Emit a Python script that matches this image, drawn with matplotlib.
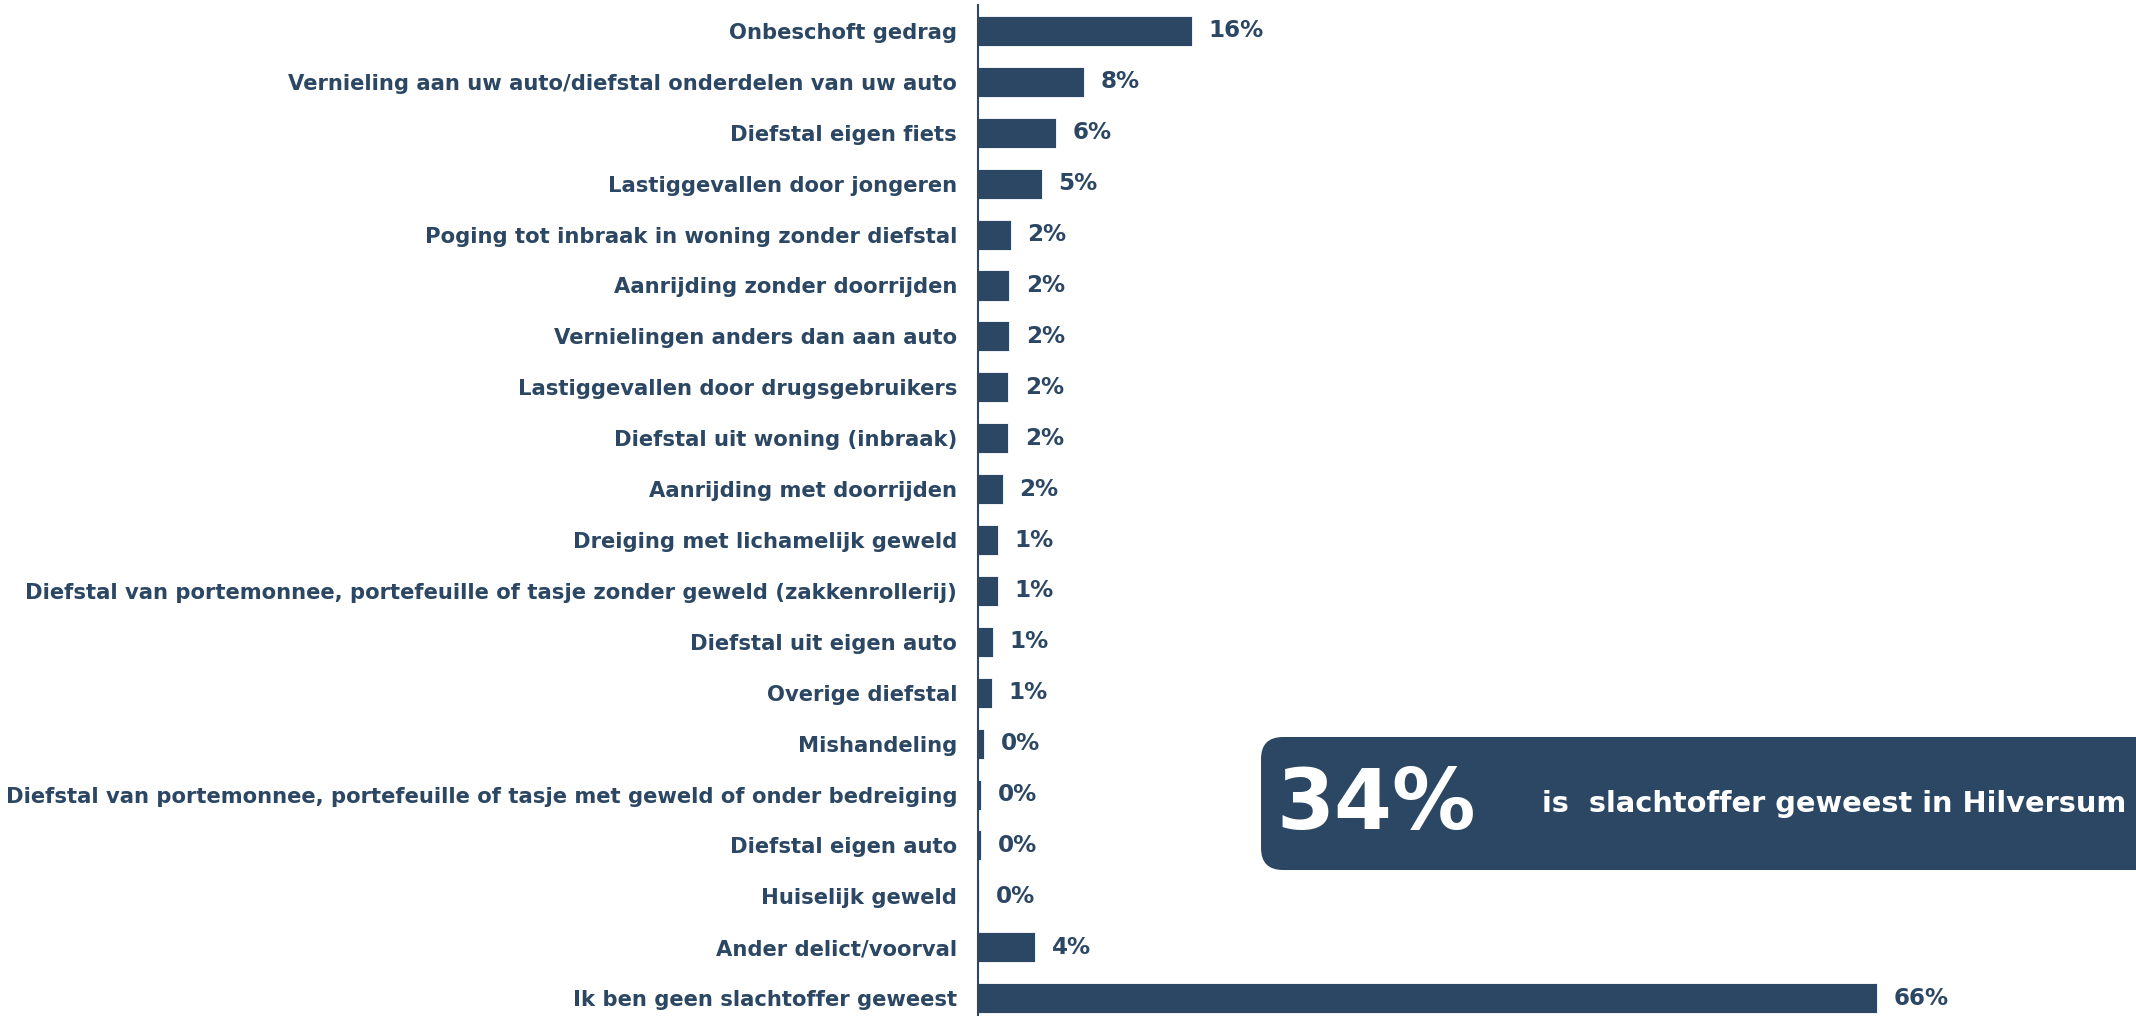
import matplotlib
matplotlib.use("Agg")
import matplotlib.pyplot as plt
from matplotlib.patches import FancyBboxPatch

categories = [
    "Onbeschoft gedrag",
    "Vernieling aan uw auto/diefstal onderdelen van uw auto",
    "Diefstal eigen fiets",
    "Lastiggevallen door jongeren",
    "Poging tot inbraak in woning zonder diefstal",
    "Aanrijding zonder doorrijden",
    "Vernielingen anders dan aan auto",
    "Lastiggevallen door drugsgebruikers",
    "Diefstal uit woning (inbraak)",
    "Aanrijding met doorrijden",
    "Dreiging met lichamelijk geweld",
    "Diefstal van portemonnee, portefeuille of tasje zonder geweld (zakkenrollerij)",
    "Diefstal uit eigen auto",
    "Overige diefstal",
    "Mishandeling",
    "Diefstal van portemonnee, portefeuille of tasje met geweld of onder bedreiging",
    "Diefstal eigen auto",
    "Huiselijk geweld",
    "Ander delict/voorval",
    "Ik ben geen slachtoffer geweest",
]
values = [15.7, 7.8, 5.7, 4.7, 2.4, 2.3, 2.3, 2.2, 2.2, 1.8, 1.45, 1.45, 1.1,
          1.0, 0.45, 0.2, 0.2, 0.1, 4.2, 66.0]
summary_value = "34%"
summary_text = "is  slachtoffer geweest in Hilversum"

COLOR = "#2C4763"
W, H = 2136, 1016
plt.rcParams['font.family'] = ['DejaVu Sans']

fig = plt.figure(figsize=(W / 100, H / 100), dpi=100)

left_px, top_px = 978, 5
ax = fig.add_axes([left_px / W, 0, (W - left_px) / W, (H - top_px) / H])
ypos = list(range(len(categories)))
ax.barh(ypos, values, height=0.59, color=COLOR, edgecolor="white", linewidth=0.6)
ax.set_xlim(0, (W - left_px) / 13.62)
ax.set_ylim(19.35, -0.51)
ax.set_yticks(ypos)
ax.set_yticklabels(categories, fontsize=15.2, fontweight="bold", color=COLOR)
ax.tick_params(axis="y", length=0, pad=15)
ax.set_xticks([])
for s in ["top", "right", "bottom"]:
    ax.spines[s].set_visible(False)
ax.spines["left"].set_color(COLOR)
ax.spines["left"].set_linewidth(1.5)

for y, v in zip(ypos, values):
    ax.annotate(f"{v:.0f}%", xy=(v, y), xytext=(12, 0), textcoords="offset points",
                va="center", ha="left", fontsize=16.6, fontweight="bold", color=COLOR)

# summary box in pixel coordinates
bx = fig.add_axes([0, 0, 1, 1], facecolor="none")
bx.set_xlim(0, W)
bx.set_ylim(0, H)
bx.axis("off")
box = FancyBboxPatch((1261 + 22, 146 + 22), 1000, 133 - 44,
                     boxstyle="round,pad=22,rounding_size=22",
                     facecolor=COLOR, edgecolor="none")
bx.add_patch(box)
bx.text(1276, 211, summary_value, fontsize=60, fontweight="bold", color="white",
        ha="left", va="center")
bx.text(1542, 212, summary_text, fontsize=20.8, fontweight="bold", color="white",
        ha="left", va="center")

fig.savefig("out.png", dpi=100)
